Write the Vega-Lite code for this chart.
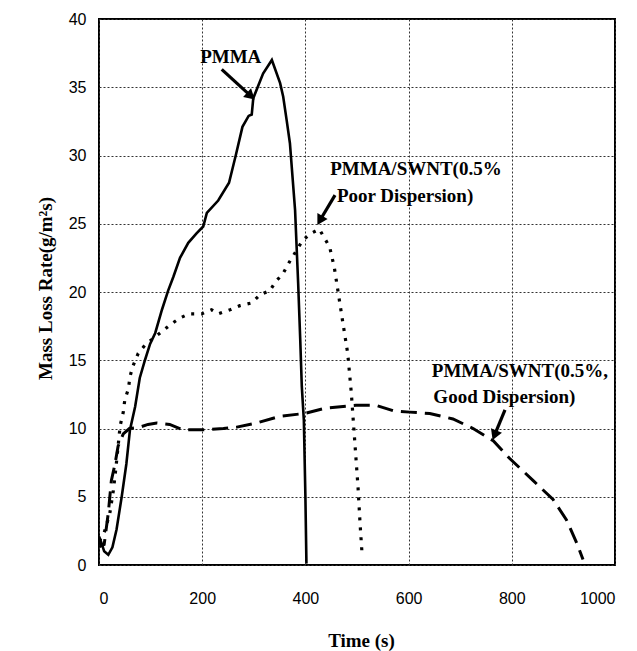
{
  "$schema": "https://vega.github.io/schema/vega-lite/v6.json",
  "autosize": "none",
  "width": 516,
  "height": 546,
  "padding": {"left": 99, "top": 19, "right": 22, "bottom": 86},
  "background": "white",
  "config": {
    "view": {"stroke": "black", "strokeWidth": 2},
    "axis": {
      "domain": false,
      "ticks": false,
      "grid": true,
      "gridColor": "#333",
      "gridDash": [2, 2],
      "gridWidth": 1,
      "labelFont": "Liberation Sans",
      "labelFontSize": 16,
      "labelColor": "black",
      "titleFont": "Liberation Serif",
      "titleFontWeight": "bold",
      "titleFontSize": 19,
      "titleColor": "black"
    }
  },
  "datasets": {
    "curves": [
      {"series": "PMMA", "t": 0, "rate": 2.1},
      {"series": "PMMA", "t": 5, "rate": 1.6},
      {"series": "PMMA", "t": 10, "rate": 1.0},
      {"series": "PMMA", "t": 18, "rate": 0.75},
      {"series": "PMMA", "t": 26, "rate": 1.3},
      {"series": "PMMA", "t": 34, "rate": 2.6},
      {"series": "PMMA", "t": 44, "rate": 5.0},
      {"series": "PMMA", "t": 53, "rate": 7.4},
      {"series": "PMMA", "t": 60, "rate": 9.9},
      {"series": "PMMA", "t": 70, "rate": 11.6},
      {"series": "PMMA", "t": 79, "rate": 13.7},
      {"series": "PMMA", "t": 89, "rate": 15.0},
      {"series": "PMMA", "t": 99, "rate": 16.2},
      {"series": "PMMA", "t": 109, "rate": 17.0},
      {"series": "PMMA", "t": 122, "rate": 18.7},
      {"series": "PMMA", "t": 134, "rate": 20.1},
      {"series": "PMMA", "t": 144, "rate": 21.1},
      {"series": "PMMA", "t": 157, "rate": 22.5},
      {"series": "PMMA", "t": 173, "rate": 23.6},
      {"series": "PMMA", "t": 189, "rate": 24.3},
      {"series": "PMMA", "t": 202, "rate": 24.8},
      {"series": "PMMA", "t": 209, "rate": 25.8},
      {"series": "PMMA", "t": 231, "rate": 26.7},
      {"series": "PMMA", "t": 252, "rate": 28.0},
      {"series": "PMMA", "t": 265, "rate": 30.0},
      {"series": "PMMA", "t": 278, "rate": 32.1},
      {"series": "PMMA", "t": 290, "rate": 32.9},
      {"series": "PMMA", "t": 296, "rate": 33.0},
      {"series": "PMMA", "t": 299, "rate": 34.2},
      {"series": "PMMA", "t": 318, "rate": 36.0},
      {"series": "PMMA", "t": 335, "rate": 37.0},
      {"series": "PMMA", "t": 351, "rate": 35.3},
      {"series": "PMMA", "t": 357, "rate": 34.3},
      {"series": "PMMA", "t": 364, "rate": 32.5},
      {"series": "PMMA", "t": 370, "rate": 30.9},
      {"series": "PMMA", "t": 380, "rate": 26.0},
      {"series": "PMMA", "t": 386, "rate": 20.6},
      {"series": "PMMA", "t": 390, "rate": 16.5},
      {"series": "PMMA", "t": 393, "rate": 13.1},
      {"series": "PMMA", "t": 397, "rate": 10.6},
      {"series": "PMMA", "t": 400, "rate": 5.0},
      {"series": "PMMA", "t": 402, "rate": 0.1},
      {"series": "Poor", "t": 0, "rate": 1.8},
      {"series": "Poor", "t": 8, "rate": 2.1},
      {"series": "Poor", "t": 15, "rate": 3.0},
      {"series": "Poor", "t": 21, "rate": 3.8},
      {"series": "Poor", "t": 28, "rate": 5.5},
      {"series": "Poor", "t": 33, "rate": 7.2},
      {"series": "Poor", "t": 37, "rate": 8.7},
      {"series": "Poor", "t": 41, "rate": 10.2},
      {"series": "Poor", "t": 47, "rate": 11.2},
      {"series": "Poor", "t": 50, "rate": 12.1},
      {"series": "Poor", "t": 57, "rate": 12.9},
      {"series": "Poor", "t": 60, "rate": 13.8},
      {"series": "Poor", "t": 66, "rate": 14.6},
      {"series": "Poor", "t": 76, "rate": 15.5},
      {"series": "Poor", "t": 89, "rate": 16.1},
      {"series": "Poor", "t": 105, "rate": 16.6},
      {"series": "Poor", "t": 122, "rate": 17.1},
      {"series": "Poor", "t": 138, "rate": 17.6},
      {"series": "Poor", "t": 157, "rate": 18.1},
      {"series": "Poor", "t": 175, "rate": 18.4},
      {"series": "Poor", "t": 199, "rate": 18.4},
      {"series": "Poor", "t": 218, "rate": 18.7},
      {"series": "Poor", "t": 231, "rate": 18.4},
      {"series": "Poor", "t": 254, "rate": 18.7},
      {"series": "Poor", "t": 273, "rate": 19.0},
      {"series": "Poor", "t": 296, "rate": 19.2},
      {"series": "Poor", "t": 312, "rate": 19.8},
      {"series": "Poor", "t": 331, "rate": 20.1},
      {"series": "Poor", "t": 343, "rate": 20.8},
      {"series": "Poor", "t": 356, "rate": 21.3},
      {"series": "Poor", "t": 369, "rate": 22.2},
      {"series": "Poor", "t": 382, "rate": 23.0},
      {"series": "Poor", "t": 395, "rate": 23.8},
      {"series": "Poor", "t": 411, "rate": 24.3},
      {"series": "Poor", "t": 427, "rate": 24.6},
      {"series": "Poor", "t": 447, "rate": 23.3},
      {"series": "Poor", "t": 456, "rate": 21.8},
      {"series": "Poor", "t": 463, "rate": 20.1},
      {"series": "Poor", "t": 472, "rate": 17.9},
      {"series": "Poor", "t": 482, "rate": 15.5},
      {"series": "Poor", "t": 489, "rate": 12.6},
      {"series": "Poor", "t": 495, "rate": 9.4},
      {"series": "Poor", "t": 502, "rate": 5.7},
      {"series": "Poor", "t": 506, "rate": 3.0},
      {"series": "Poor", "t": 510, "rate": 0.7},
      {"series": "Good", "t": 0, "rate": 1.9},
      {"series": "Good", "t": 4, "rate": 1.4},
      {"series": "Good", "t": 10, "rate": 1.5},
      {"series": "Good", "t": 18, "rate": 3.8},
      {"series": "Good", "t": 24, "rate": 6.2},
      {"series": "Good", "t": 31, "rate": 7.4},
      {"series": "Good", "t": 37, "rate": 8.7},
      {"series": "Good", "t": 47, "rate": 9.6},
      {"series": "Good", "t": 59, "rate": 10.0},
      {"series": "Good", "t": 79, "rate": 10.1},
      {"series": "Good", "t": 95, "rate": 10.3},
      {"series": "Good", "t": 112, "rate": 10.4},
      {"series": "Good", "t": 137, "rate": 10.3},
      {"series": "Good", "t": 163, "rate": 9.9},
      {"series": "Good", "t": 202, "rate": 9.9},
      {"series": "Good", "t": 241, "rate": 10.0},
      {"series": "Good", "t": 267, "rate": 10.1},
      {"series": "Good", "t": 305, "rate": 10.4},
      {"series": "Good", "t": 351, "rate": 10.9},
      {"series": "Good", "t": 398, "rate": 11.1},
      {"series": "Good", "t": 440, "rate": 11.5},
      {"series": "Good", "t": 498, "rate": 11.7},
      {"series": "Good", "t": 537, "rate": 11.7},
      {"series": "Good", "t": 570, "rate": 11.3},
      {"series": "Good", "t": 602, "rate": 11.2},
      {"series": "Good", "t": 641, "rate": 11.1},
      {"series": "Good", "t": 686, "rate": 10.7},
      {"series": "Good", "t": 725, "rate": 10.0},
      {"series": "Good", "t": 764, "rate": 9.1},
      {"series": "Good", "t": 796, "rate": 7.8},
      {"series": "Good", "t": 841, "rate": 6.2},
      {"series": "Good", "t": 880, "rate": 4.8},
      {"series": "Good", "t": 906, "rate": 3.3},
      {"series": "Good", "t": 926, "rate": 1.6},
      {"series": "Good", "t": 938, "rate": 0.4}
    ],
    "labels": [
      {"t": 196, "rate": 36.8, "label": "PMMA"},
      {"t": 448, "rate": 28.57, "label": "PMMA/SWNT(0.5%"},
      {"t": 461, "rate": 26.6, "label": "Poor Dispersion)"},
      {"t": 645, "rate": 13.8, "label": "PMMA/SWNT(0.5%,"},
      {"t": 648, "rate": 11.85, "label": "Good Dispersion)"}
    ],
    "arrows": [
      {"name": "PMMA", "t": 237.8, "rate": 36.31, "t2": 291.9, "rate2": 34.44},
      {"name": "Poor", "t": 457.4, "rate": 27.1, "t2": 429.8, "rate2": 25.35},
      {"name": "Good", "t": 786.8, "rate": 11.36, "t2": 767.8, "rate2": 9.62}
    ]
  },
  "encoding": {
    "x": {
      "field": "t",
      "type": "quantitative",
      "scale": {"domain": [0, 1000], "nice": false, "zero": false},
      "axis": {
        "values": [0, 200, 400, 600, 800, 1000],
        "format": "d",
        "labelPadding": 25,
        "title": "Time (s)",
        "titleX": 262,
        "titleY": 81,
        "titleBaseline": "alphabetic",
        "titleAlign": "center"
      }
    },
    "y": {
      "field": "rate",
      "type": "quantitative",
      "scale": {"domain": [0, 40], "nice": false, "zero": false},
      "axis": {
        "values": [0, 5, 10, 15, 20, 25, 30, 35, 40],
        "labelPadding": 13,
        "title": "Mass Loss Rate(g/m²s)",
        "titleAngle": 270,
        "titleX": -48,
        "titleY": 269,
        "titleBaseline": "alphabetic",
        "titleAlign": "center"
      }
    }
  },
  "layer": [
    {
      "data": {"name": "curves"},
      "transform": [{"filter": "datum.series === 'PMMA'"}],
      "mark": {"type": "line", "color": "black", "strokeWidth": 2.6, "clip": true}
    },
    {
      "data": {"name": "curves"},
      "transform": [{"filter": "datum.series === 'Poor'"}],
      "mark": {"type": "line", "color": "black", "strokeWidth": 3.2, "strokeDash": [3, 7], "clip": true}
    },
    {
      "data": {"name": "curves"},
      "transform": [{"filter": "datum.series === 'Good'"}],
      "mark": {"type": "line", "color": "black", "strokeWidth": 3, "strokeDash": [16, 8], "clip": true}
    },
    {
      "data": {"name": "arrows"},
      "mark": {"type": "rule", "color": "black", "strokeWidth": 3.2},
      "encoding": {
        "x2": {"field": "t2"},
        "y2": {"field": "rate2"}
      }
    },
    {
      "data": {"name": "arrows"},
      "transform": [{"filter": "datum.name === 'PMMA'"}],
      "mark": {"type": "point", "shape": "triangle", "filled": true, "color": "black", "size": 140, "angle": 132, "opacity": 1},
      "encoding": {
        "x": {"field": "t2", "type": "quantitative"},
        "y": {"field": "rate2", "type": "quantitative"}
      }
    },
    {
      "data": {"name": "arrows"},
      "transform": [{"filter": "datum.name === 'Poor'"}],
      "mark": {"type": "point", "shape": "triangle", "filled": true, "color": "black", "size": 140, "angle": 210, "opacity": 1},
      "encoding": {
        "x": {"field": "t2", "type": "quantitative"},
        "y": {"field": "rate2", "type": "quantitative"}
      }
    },
    {
      "data": {"name": "arrows"},
      "transform": [{"filter": "datum.name === 'Good'"}],
      "mark": {"type": "point", "shape": "triangle", "filled": true, "color": "black", "size": 140, "angle": 202, "opacity": 1},
      "encoding": {
        "x": {"field": "t2", "type": "quantitative"},
        "y": {"field": "rate2", "type": "quantitative"}
      }
    },
    {
      "data": {"name": "labels"},
      "mark": {"type": "text", "align": "left", "baseline": "alphabetic", "font": "Liberation Serif", "fontWeight": "bold", "fontSize": 19, "color": "black"},
      "encoding": {
        "text": {"field": "label"}
      }
    }
  ]
}
